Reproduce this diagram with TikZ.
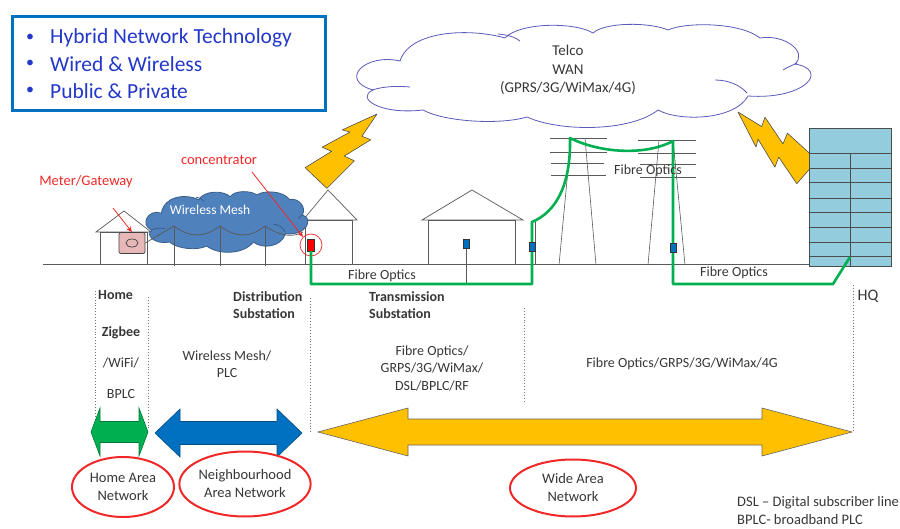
\documentclass[tikz,border=0pt]{standalone}
\usepackage{fontspec}
\setmainfont{Carlito}
\usepackage{tikz}
\usetikzlibrary{shapes.geometric, arrows.meta}

\definecolor{officeblue}{HTML}{0070C0}
\definecolor{bullettext}{RGB}{35,55,200}
\definecolor{fibregreen}{HTML}{00B050}
\definecolor{boltyellow}{HTML}{FFC000}
\definecolor{meshblue}{HTML}{4F81BD}
\definecolor{meshedge}{HTML}{385D8A}
\definecolor{cloudedge}{RGB}{90,90,185}
\definecolor{hqblue}{HTML}{93CDDD}
\definecolor{meterpink}{RGB}{230,185,184}
\definecolor{labelgray}{RGB}{55,55,55}
\definecolor{callred}{RGB}{240,40,40}

\newcommand{\fs}[1]{\fontsize{#1}{\dimexpr #1pt+3.5pt\relax}\selectfont}
% block arrow with two heads: style, left tip, right tip, mid y, head length, shaft half, head half
\newcommand{\dblarrow}[7]{%
  \draw[#1] (#2,#4) -- (#2+#5,#4-#7) -- (#2+#5,#4-#6) -- (#3-#5,#4-#6) -- (#3-#5,#4-#7)
    -- (#3,#4) -- (#3-#5,#4+#7) -- (#3-#5,#4+#6) -- (#2+#5,#4+#6) -- (#2+#5,#4+#7) -- cycle;}

\tikzset{
  line/.style={draw=black!65, line width=0.7pt},
  fibre/.style={draw=fibregreen, line width=2.6pt, line join=round},
  device/.style={draw=black!80, fill=officeblue, minimum width=6pt, minimum height=9pt, inner sep=0pt},
  sep/.style={draw=black!55, dotted, line width=0.9pt},
  lbl/.style={text=labelgray, font=\fs{14}, align=center, inner sep=0pt},
  item/.style={anchor=west, text=bullettext, font=\fs{21.5}, inner sep=0pt},
  callout/.style={text=callred, font=\fs{14.5}, inner sep=0pt},
  redarrow/.style={draw=callred, line width=0.8pt, -{Stealth[length=6pt,width=5pt]}},
  net/.style={ellipse, draw=callred, line width=2pt, fill=white, text=labelgray, font=\fs{14.5},
    align=center, inner sep=0pt},
  bolt/.pic={\draw[draw=black!70, fill=boltyellow, line width=0.6pt, line join=round]
    (0,-17) -- (0,17) -- (34,8) -- (30,19) -- (64,8) -- (60,16) -- (100,0)
    -- (70,-5) -- (74,-15) -- (40,-6) -- (44,-18) -- cycle;},
  % cloud outline in a 448 x 102 box
  puffs/.pic={
    \path[pic actions] (145,13) .. controls (110,3) and (50,5) .. (40,36)
      .. controls (5,28) and (-22,55) .. (13,65)
      .. controls (-5,73) and (20,90) .. (63,85)
      .. controls (85,97) and (140,100) .. (167,92)
      .. controls (200,107) and (270,107) .. (298,85)
      .. controls (320,97) and (375,95) .. (388,71)
      .. controls (445,75) and (470,45) .. (435,39)
      .. controls (448,27) and (425,9) .. (400,13)
      .. controls (380,-3) and (325,-3) .. (308,5)
      .. controls (290,-3) and (245,-3) .. (233,8)
      .. controls (215,-3) and (160,-3) .. (145,13) -- cycle;
    \path[pic actions, fill=none] (12,65) .. controls (25,61) and (38,61) .. (50,62)
      (138,9) .. controls (148,10) and (155,12) .. (160,16)
      (355,55) .. controls (368,55) and (380,60) .. (387,68)
      (423,45) .. controls (428,42) and (433,40) .. (437,38);}
}

\begin{document}
\begin{tikzpicture}[x=1pt, y=-1pt]
\useasboundingbox (0,0) rectangle (900,529);

% key points box
\node[draw=officeblue, line width=3pt, minimum width=313pt, minimum height=94pt] (keys) at (168.5,64) {};
\node[item] (hybrid) at (50,38) {Hybrid Network Technology};
\node[item] (wired) at (50,64) {Wired \& Wireless};
\node[item] (public) at (50,91) {Public \& Private};
\foreach \y in {38,64,91}
  \node[text=bullettext, font=\fs{16}, inner sep=0pt] at (30,\y) {•};

% telco cloud
\begin{scope}[shift={(360,25)}]
  \pic[draw=cloudedge, fill=white, line width=0.8pt] (wan) {puffs};
\end{scope}
\node[lbl, font=\fs{15}] (wantext) at (568,70) {Telco\\WAN\\(GPRS/3G/WiMax/4G)};

% radio links
\begin{scope}[shift={(316,178)}, x={(0.61pt,0.64pt)}, y={(-0.64pt,0.61pt)}]
  \pic {bolt};
\end{scope}
\begin{scope}[shift={(807,172)}, x={(-0.69pt,0.60pt)}, y={(-0.60pt,-0.69pt)}]
  \pic {bolt};
\end{scope}

% ground
\draw[line] (43,264) -- (809,264);

% houses
\draw[line] (96,232) -- (124,211) -- (151,232) -- cycle;
\draw[line] (100,232) rectangle (147,264);
\draw[line] (303,220) -- (328,190) -- (357,220) -- cycle;
\draw[line] (305,220) rectangle (352,264);
\draw[line] (422,220) -- (472,190) -- (523,220) -- cycle;
\draw[line] (428,220) rectangle (515,264);

% meter
\node[draw=black!75, fill=meterpink, rounded corners=2pt, minimum width=26pt, minimum height=21pt,
  line width=0.7pt] (meter) at (132,243) {};
\draw[black!75, line width=0.7pt] (meter.center) ellipse [x radius=6, y radius=4];

% wireless mesh with its poles
\begin{scope}[shift={(147,192)}, x={(0.357pt,0pt)}, y={(0pt,-0.588pt)}]
  \pic[draw=meshedge, fill=meshblue, line width=0.8pt] (mesh) {puffs};
\end{scope}
\node[text=white, font=\fs{13.5}, inner sep=0pt] (meshtext) at (210,210) {Wireless Mesh};
\foreach \x in {174,220,265}
  \draw[line] (\x,226) -- (\x,266);
\draw[line] (meter.east) -- (174,226);
\draw[line] (174,226) .. controls (190,238) and (204,238) .. (220,226);
\draw[line] (220,226) .. controls (236,238) and (250,238) .. (265,226);
\draw[line] (265,226) .. controls (280,236) and (292,238) .. (303,232);

% concentrator
\node[draw=black!80, fill=red, minimum width=7pt, minimum height=12pt, inner sep=0pt] (conc) at (311,245) {};
\node[circle, draw=callred, line width=0.7pt, minimum size=22pt, inner sep=0pt] (ring) at (311,245) {};

% callouts
\node[callout] (lblmeter) at (86,182) {Meter/Gateway};
\coordinate (mtail) at (113,208);
\draw[redarrow] (mtail) -- (meter.north);
\node[callout] (lblconc) at (219,160) {concentrator};
\coordinate (ctail) at (252,172);
\draw[redarrow] (ctail) -- (ring.north west);

% pylons
\draw[line] (550,138) -- (607,138) (550,152) -- (607,152) (551,163) -- (604,163) (551,175) -- (606,175);
\draw[line, line width=0.6pt] (571,138) -- (559,265) (585,138) -- (596,265);
\draw[line] (638,140) -- (696,140) (638,153) -- (696,153) (640,164) -- (696,164) (640,177) -- (696,177);
\draw[line, line width=0.6pt] (659,140) -- (648,265) (673,140) -- (685,265);
\draw[line, line width=0.6pt] (535,222) -- (535,264);

% HQ
\draw[draw=black!70, fill=hqblue, line width=0.8pt] (809,128) rectangle (891,266);
\foreach \y in {153,168,182,198,212,227,242,256}
  \draw[black!70, line width=0.8pt] (809,\y) -- (891,\y);
\draw[black!70, line width=0.8pt] (850,153) -- (850,266);

% fibre run
\node[device] (dev3) at (466,244) {};
\draw[line] (dev3.south) -- (466,284);
\draw[fibre] (conc.south) -- (311,284) -- (532,284) -- (532,222)
  .. controls (556,212) and (571,185) .. (570,138)
  .. controls (600,153) and (645,156) .. (673,141)
  -- (673,284) -- (833,284) -- (850,257);
\node[device] (dev4) at (532,247) {};
\node[device] (dev5) at (673,248) {};
\node[lbl] (fo1) at (382,276) {Fibre Optics};
\node[lbl] (fo2) at (648,171) {Fibre Optics};
\node[lbl] (fo3) at (734,273) {Fibre Optics};

% network segments
\draw[sep] (95,291) -- (95,432);
\draw[sep] (148,297) -- (148,430);
\draw[sep] (310,298) -- (310,432);
\draw[sep] (524,308) -- (524,403);
\draw[sep] (853,285) -- (853,432);

\node[lbl, anchor=west, font=\bfseries\fs{14}] (home) at (98,295) {Home};
\node[lbl, font=\bfseries\fs{14}] (zigbee) at (121,333) {Zigbee};
\node[lbl] (wifi) at (121,363) {/WiFi/};
\node[lbl] (bplc) at (121,394) {BPLC};
\node[lbl, anchor=west, align=left, font=\bfseries\fs{14}] (dist) at (233,305) {Distribution\\Substation};
\node[lbl, anchor=west, align=left, font=\bfseries\fs{14}] (trans) at (369,305) {Transmission\\Substation};
\node[lbl] (nantech) at (227,364) {Wireless Mesh/\\PLC};
\node[lbl] (wantech1) at (432,368) {Fibre Optics/\\GRPS/3G/WiMax/\\DSL/BPLC/RF};
\node[lbl] (wantech2) at (682,364) {Fibre Optics/GRPS/3G/WiMax/4G};
\node[lbl, font=\fs{16}] (hq) at (868,296) {HQ};

\dblarrow{draw=fibregreen!70!black, fill=fibregreen, line width=0.6pt}{91}{148}{432}{9}{10.5}{24}
\dblarrow{draw=officeblue!70!black, fill=officeblue, line width=0.6pt}{155}{302}{433}{25}{11.5}{24}
\dblarrow{draw=black!60, fill=boltyellow, line width=0.6pt}{318}{852}{432}{90}{13}{24}

\node[net, minimum width=102pt, minimum height=60pt] (han) at (123,487) {Home Area\\Network};
\node[net, minimum width=125pt, minimum height=65pt] (nan) at (245,484) {Neighbourhood\\Area Network};
\node[net, minimum width=126pt, minimum height=57pt] (wanet) at (573,488) {Wide Area\\Network};

\node[lbl, anchor=west, align=left, font=\fs{14.5}] (note) at (737,511) {DSL – Digital subscriber line\\BPLC- broadband PLC};
\end{tikzpicture}
\end{document}
